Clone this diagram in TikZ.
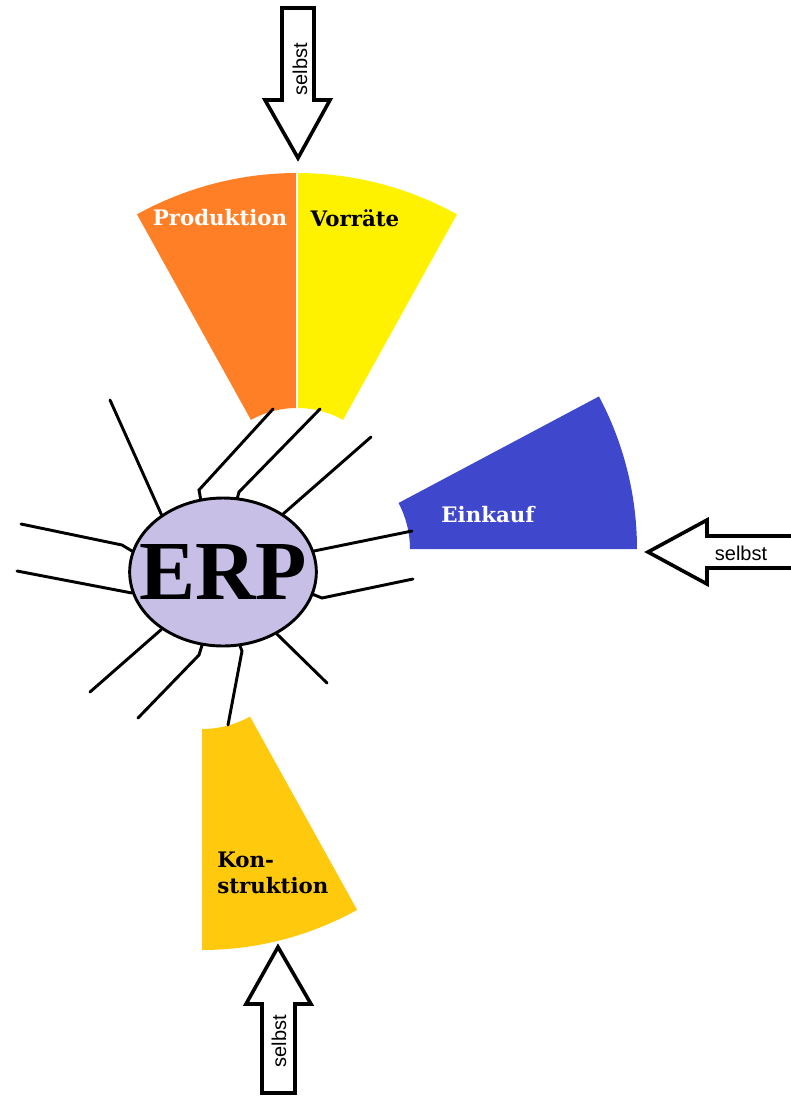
\documentclass[tikz,border=0pt]{standalone}
\usepackage{fontspec}
\setmainfont{Liberation Serif}
\newfontfamily\sektorfont{DejaVu Serif}
\newfontfamily\pfeilfont{Liberation Sans}
\usepackage{tikz}
\usetikzlibrary{
  shapes.geometric,
  calc
}
\definecolor{prodorange}{RGB}{255,127,39}
\definecolor{vorrgelb}{RGB}{255,242,0}
\definecolor{einkblau}{RGB}{63,72,204}
\definecolor{konsgold}{RGB}{255,201,14}
\definecolor{erplila}{RGB}{200,191,231}
\tikzset{
  spoke/.style={line width=2.2pt, line cap=round},
  pfeil/.style={line width=2.7pt, line join=miter},
  pfeiltext/.style={font=\pfeilfont\fontsize{15}{15}\selectfont, inner sep=0pt},
  sektortext/.style={font=\sektorfont\bfseries\fontsize{16}{20}\selectfont, inner sep=0pt}
}

\begin{document}
\begin{tikzpicture}[x=0.75pt, y=-0.75pt]
    \useasboundingbox (0,0) rectangle (790,1097);
    % Mittelpunkte der Sektoren
    \coordinate (mtop) at (297,503);
    \coordinate (mein) at (312,549);
    \coordinate (mkon) at (202,630);

    % Sektoren
    \fill[prodorange] ($(mtop)+(241:95)$) arc[start angle=241, end angle=270, radius=95]
                -- ($(mtop)+(270:330)$) arc[start angle=270, end angle=241, radius=330] -- cycle;
    \fill[vorrgelb] ($(mtop)+(270:95)$) arc[start angle=270, end angle=299, radius=95]
                -- ($(mtop)+(299:330)$) arc[start angle=299, end angle=270, radius=330] -- cycle;
    \draw[white, line width=2.2pt] ($(mtop)+(270:94)$) -- ($(mtop)+(270:331)$);
    \fill[einkblau] ($(mein)+(332:98)$) arc[start angle=332, end angle=360, radius=98]
                -- ($(mein)+(0:325)$) arc[start angle=360, end angle=332, radius=325] -- cycle;
    \fill[konsgold] ($(mkon)+(61:99)$) arc[start angle=61, end angle=90, radius=99]
                -- ($(mkon)+(90:320)$) arc[start angle=90, end angle=61, radius=320] -- cycle;

    \node[sektortext, text=white] (prod) at (220,218) {Produktion};
    \node[sektortext] (vorr) at (355,218) {Vorräte};
    \node[sektortext, text=white] (eink) at (488,515) {Einkauf};
    \node[sektortext, align=left, anchor=west] (kons) at (217,873) {Kon-\\struktion};

    % ERP
    \node[ellipse, draw, line width=2.2pt, fill=erplila, minimum width=140pt, minimum height=111pt,
          inner sep=0pt, font=\bfseries\fontsize{63}{63}\selectfont] (erp) at (223,572) {\makebox[0pt]{ERP}};

    % Speichen
    \foreach \w/\px/\py in {137/110/400, 193/17/571, 44/371/437, 13/412/531, 311/327/683, 223/90/692} {
        \coordinate (e\w) at (\px,\py);
        \draw[spoke] (erp.\w) -- (e\w);
    }
    \foreach \w/\kx/\ky/\px/\py in {167/122/545/21/524, 107/199/490/273/409, 79/239/492/320/409,
                                   346/322/598/413/579, 254/199/655/138/718, 283/242/651/228/725} {
        \coordinate (k\w) at (\kx,\ky);
        \coordinate (e\w) at (\px,\py);
        \draw[spoke] (erp.\w) -- (k\w) -- (e\w);
    }

    % Pfeile "selbst"
    \draw[pfeil] (282,8) -- (314,8) -- (314,100) -- (330,100) -- (298,158) -- (265,100) -- (282,100) -- cycle;
    \node[pfeiltext, rotate=90] (stop) at (300,69) {selbst};
    \draw[pfeil] (791,536) -- (707,536) -- (707,520) -- (648,552) -- (707,584) -- (707,568) -- (791,568);
    \node[pfeiltext] (srechts) at (741,553) {selbst};
    \draw[pfeil] (278,947) -- (311,1004) -- (295,1004) -- (295,1093) -- (262,1093) -- (262,1004) -- (246,1004) -- cycle;
    \node[pfeiltext, rotate=90] (sunten) at (279,1041) {selbst};
\end{tikzpicture}
\end{document}
